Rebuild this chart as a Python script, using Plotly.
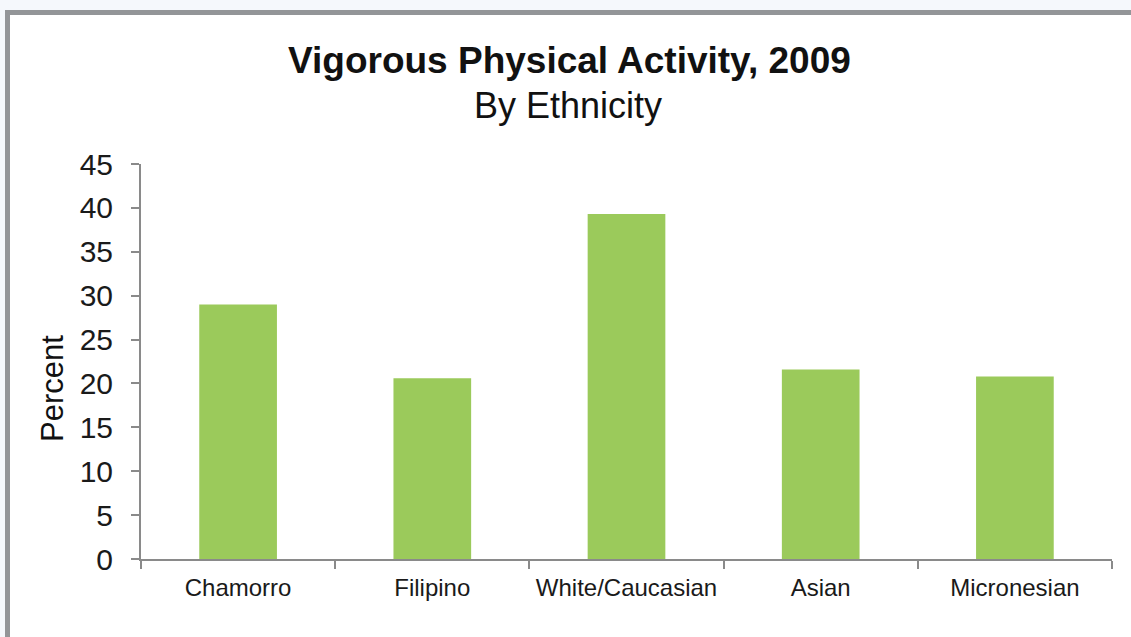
import plotly.graph_objects as go

categories = ["Chamorro", "Filipino", "White/Caucasian", "Asian", "Micronesian"]
percent = [29.0, 20.6, 39.3, 21.6, 20.8]
y_ticks = [0, 5, 10, 15, 20, 25, 30, 35, 40, 45]

W, H = 1131, 637
L, R, T, B = 141, 19, 164, 78
PW, PH = W - L - R, H - T - B

def px_x(px):
    return (px - L) / PW

def px_y(py):
    return (H - B - py) / PH

fig = go.Figure()
fig.add_trace(go.Bar(x=categories, y=percent, marker=dict(color="#9bca5b", line=dict(width=0)),
                     hoverinfo="x+y"))

fig.update_layout(
    width=W, height=H,
    margin=dict(l=L, r=R, t=T, b=B, pad=0),
    paper_bgcolor="#f5f8fc",
    plot_bgcolor="rgba(0,0,0,0)",
    bargap=0.6,
    showlegend=False,
    font=dict(family="Liberation Sans, Arial, sans-serif", color="#1a1a1a"),
    xaxis=dict(
        showline=True, linecolor="#8a8a8a", linewidth=2,
        ticks="outside", tickson="boundaries", ticklen=8, tickwidth=2, tickcolor="#8a8a8a",
        tickfont=dict(size=24, color="#1a1a1a"),
        showgrid=False, zeroline=False, ticklabelstandoff=6,
    ),
    yaxis=dict(
        range=[0, 45], tickvals=y_ticks, ticktext=[str(v) for v in y_ticks],
        showline=True, linecolor="#8a8a8a", linewidth=2,
        ticks="outside", ticklen=8, tickwidth=2, tickcolor="#8a8a8a",
        tickfont=dict(size=30, color="#1a1a1a"),
        showgrid=False, zeroline=False, ticklabelstandoff=12,
    ),
    shapes=[
        dict(type="rect", xref="paper", yref="paper", layer="below",
             x0=px_x(7.5), x1=px_x(1145), y0=px_y(12.5), y1=px_y(660),
             fillcolor="white", line=dict(color="#939598", width=5)),
    ],
    annotations=[
        dict(text="<b>Vigorous Physical Activity, 2009</b>", xref="paper", yref="paper",
             x=px_x(569), y=px_y(61), xanchor="center", yanchor="middle", showarrow=False,
             font=dict(size=37, color="#111111")),
        dict(text="By Ethnicity", xref="paper", yref="paper",
             x=px_x(568), y=px_y(105), xanchor="center", yanchor="middle", showarrow=False,
             font=dict(size=36, color="#111111")),
        dict(text="Percent", xref="paper", yref="paper", textangle=-90,
             x=px_x(52), y=px_y(389), xanchor="center", yanchor="middle", showarrow=False,
             font=dict(size=31, color="#111111")),
    ],
)

fig.write_html("out.html", config={"displayModeBar": False},
               post_script="document.body.style.margin='0';document.body.style.overflow='hidden';")
